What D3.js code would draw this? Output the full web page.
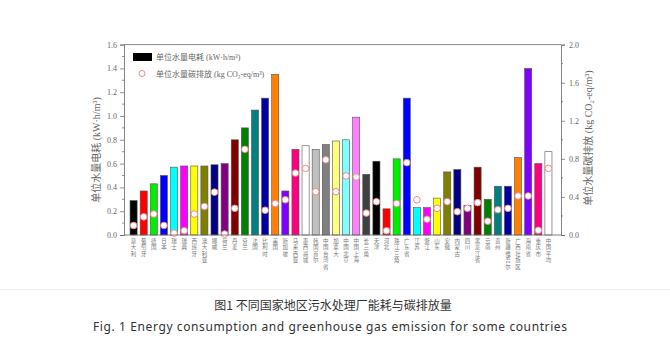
<!DOCTYPE html>
<html><head><meta charset="utf-8">
<script src="https://cdn.jsdelivr.net/npm/d3@7"></script>
<style>body{margin:0;background:#fff}svg{display:block}</style>
</head><body>
<svg id="c" width="670" height="355"></svg>
<script>
const categories = ["意大利","葡萄牙","德国","日本","瑞士","瑞典","西班牙","澳大利亚","挪威","荷兰","丹麦","芬兰","法国","比利时","美国","新加坡","马来西亚","墨西哥城","韩国首尔","中国台湾省","加拿大","中国北京","中国上海","长三角","天津","河北","珠江三角","广东省","江苏","浙江","山东","安徽","内蒙古","四川","黑龙江省","云南","贵州","新疆维吾尔","广西壮族区","海南省","重庆市","中国平均"];
const energy = [0.29,0.37,0.43,0.50,0.57,0.58,0.58,0.58,0.59,0.60,0.80,0.90,1.05,1.15,1.35,0.37,0.72,0.75,0.72,0.76,0.79,0.80,0.99,0.51,0.62,0.22,0.64,1.15,0.23,0.23,0.31,0.53,0.55,0.25,0.57,0.30,0.41,0.41,0.65,1.40,0.60,0.70];
const carbon = [0.10,0.19,0.22,0.10,0.02,0.045,0.22,0.30,0.45,0.01,0.28,0.90,null,0.26,0.33,0.37,0.65,0.70,0.455,0.79,0.455,0.62,0.61,0.23,0.35,0.045,0.33,0.76,0.37,0.165,0.28,0.35,0.245,0.28,0.34,0.145,0.265,0.28,0.41,0.41,0.05,0.70];
const barColors = ["#000000","#ff0000","#00ee00","#0000ff","#00ffff","#ff00ff","#ffff00","#808000","#000080","#800080","#800000","#008000","#008080","#0000a0","#ff8000","#8000ff","#ff0080","#ffffff","#c0c0c0","#808080","#ffff80","#80ffff","#ff80ff","#404040"];
const leftTicks = [0,0.2,0.4,0.6,0.8,1.0,1.2,1.4,1.6];
const rightTicks = [0,0.4,0.8,1.2,1.6,2.0];
const legendLabels = ["单位水量电耗 (kW·h/m³)","单位水量碳排放 (kg CO₂-eq/m³)"];
const titleCn = "图1 不同国家地区污水处理厂能耗与碳排放量";
const titleEn = "Fig. 1 Energy consumption and greenhouse gas emission for some countries";

const svg = d3.select("#c");
const L = 124, R = 561, T = 44.6, B = 235;
const serif = "'Liberation Serif','Noto Sans CJK SC',serif";
const axisCol = "#666";

const x = d3.scaleBand().domain(d3.range(categories.length)).range([127,555]).paddingInner(0.3).paddingOuter(0.3);
const yL = d3.scaleLinear().domain([0,1.6]).range([B,T]);
const yR = d3.scaleLinear().domain([0,2.0]).range([B,T]);

// bars
svg.append("g").selectAll("rect").data(energy).join("rect")
  .attr("x",(d,i)=>x(i)).attr("width",x.bandwidth())
  .attr("y",d=>yL(d)).attr("height",d=>B-yL(d))
  .attr("fill",(d,i)=>barColors[i%barColors.length])
  .attr("stroke","#555").attr("stroke-width",0.6);

// circles
svg.append("g").selectAll("circle").data(carbon.map((v,i)=>({v,i})).filter(d=>d.v!=null)).join("circle")
  .attr("cx",d=>x(d.i)+x.bandwidth()/2).attr("cy",d=>yR(d.v)).attr("r",3.3)
  .attr("fill","#fff").attr("stroke","#f08a8a").attr("stroke-width",1);

// frame
svg.append("line").attr("x1",L).attr("x2",R).attr("y1",T).attr("y2",T).attr("stroke",axisCol).attr("stroke-width",0.8);

// left axis
const gl = svg.append("g").attr("transform",`translate(${L},0)`)
  .call(d3.axisLeft(yL).tickValues(leftTicks).tickFormat(d3.format(".1f")).tickSize(4).tickPadding(3));
svg.append("g").selectAll("line").data(d3.range(0.1,1.6,0.2)).join("line")
  .attr("x1",L-2).attr("x2",L).attr("y1",d=>yL(d)).attr("y2",d=>yL(d)).attr("stroke",axisCol).attr("stroke-width",0.7);
// right axis
const gr = svg.append("g").attr("transform",`translate(${R},0)`)
  .call(d3.axisRight(yR).tickValues(rightTicks).tickFormat(d3.format(".1f")).tickSize(4).tickPadding(4));
svg.append("g").selectAll("line").data(d3.range(0.2,2.0,0.4)).join("line")
  .attr("x1",R).attr("x2",R+2).attr("y1",d=>yR(d)).attr("y2",d=>yR(d)).attr("stroke",axisCol).attr("stroke-width",0.7);
svg.append("line").attr("x1",L).attr("x2",R).attr("y1",B).attr("y2",B).attr("stroke",axisCol).attr("stroke-width",0.8);

[gl,gr].forEach(g=>{
  g.select(".domain").attr("stroke",axisCol).attr("stroke-width",0.8);
  g.selectAll(".tick line").attr("stroke",axisCol).attr("stroke-width",0.7);
  g.selectAll(".tick text").attr("fill",axisCol).style("font-family",serif).style("font-size","8px");
});

// axis titles
svg.append("text").attr("transform","translate(100,150) rotate(-90)").attr("text-anchor","middle")
  .style("font-family",serif).style("font-size","10px").attr("fill",axisCol).text(legendLabels[0]);
svg.append("text").attr("transform","translate(592,138) rotate(-90)").attr("text-anchor","middle")
  .style("font-family",serif).style("font-size","10px").attr("fill",axisCol).text(legendLabels[1]);

// legend
svg.append("rect").attr("x",133).attr("y",53).attr("width",19).attr("height",8).attr("fill","#000");
svg.append("text").attr("x",156).attr("y",60).style("font-family",serif).style("font-size","8px").attr("fill",axisCol).text(legendLabels[0]);
svg.append("circle").attr("cx",142).attr("cy",73.5).attr("r",3).attr("fill","#fff").attr("stroke","#f08a8a").attr("stroke-width",1);
svg.append("text").attr("x",156).attr("y",76.5).style("font-family",serif).style("font-size","8px").attr("fill",axisCol).text(legendLabels[1]);

// x labels: vertical writing mode
svg.append("g").selectAll("text").data(categories).join("text")
  .attr("x",(d,i)=>x(i)+x.bandwidth()/2).attr("y",238)
  .style("writing-mode","vertical-rl").style("text-orientation","upright")
  .style("letter-spacing","1px")
  .style("font-family","'Noto Sans CJK SC',sans-serif").style("font-size","5.5px").attr("fill","#777")
  .text(d=>d);

// captions
svg.append("line").attr("x1",0).attr("x2",670).attr("y1",289.5).attr("y2",289.5).attr("stroke","#f0f0f0").attr("stroke-width",1);
svg.append("text").attr("x",333).attr("y",310).attr("text-anchor","middle")
  .style("font-family","'Noto Sans CJK SC',sans-serif").style("font-size","12px").attr("fill","#333").text(titleCn);
svg.append("text").attr("x",330).attr("y",331).attr("text-anchor","middle").attr("textLength",474).attr("lengthAdjust","spacing")
  .style("font-family","'Noto Sans','Noto Sans CJK SC',sans-serif").style("font-size","12px").attr("fill","#333").text(titleEn);
</script>
</body></html>
